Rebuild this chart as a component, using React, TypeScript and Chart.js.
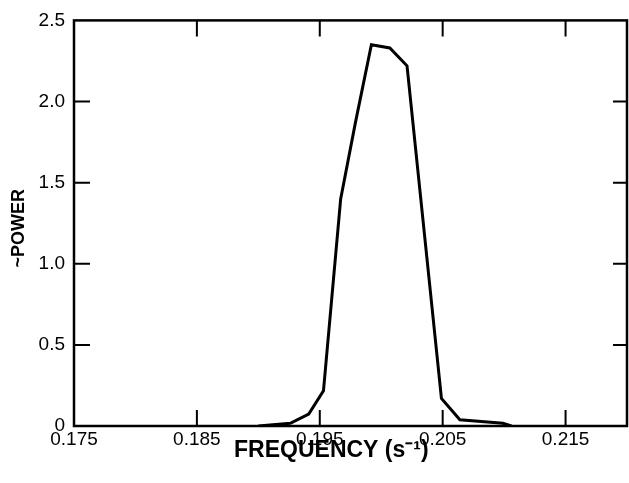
import { useEffect, useRef } from "react";
import Chart from "chart.js/auto";
import type { Chart as ChartJS, Plugin } from "chart.js";

// frequency (s^-1) and relative power
const frequency = [
  0.19, 0.1926, 0.1941, 0.1953, 0.1967, 0.1979, 0.1992, 0.2007, 0.2021, 0.2049,
  0.2064, 0.2099, 0.2106,
];
const power = [0, 0.017, 0.074, 0.217, 1.4, 1.87, 2.35, 2.33, 2.22, 0.17, 0.038, 0.017, 0];

const xTicks = [0.175, 0.185, 0.195, 0.205, 0.215];
const yTicks = [0, 0.5, 1.0, 1.5, 2.0, 2.5];

const FONT = "'Liberation Sans', Arial, sans-serif";

// box round the plot with inward tick marks on all four sides
const framePlugin: Plugin<"line"> = {
  id: "frame",
  beforeDatasetsDraw(chart) {
    const { ctx, chartArea, scales } = chart;
    const { left, right, top, bottom } = chartArea;
    ctx.save();
    ctx.strokeStyle = "#000";
    ctx.lineWidth = 2.5;
    ctx.strokeRect(left, top, right - left, bottom - top);
    ctx.lineWidth = 2;
    ctx.beginPath();
    xTicks.slice(1).forEach((v) => {
      const px = scales.x.getPixelForValue(v);
      ctx.moveTo(px, bottom);
      ctx.lineTo(px, bottom - 16);
      ctx.moveTo(px, top);
      ctx.lineTo(px, top + 16);
    });
    yTicks.slice(1, -1).forEach((v) => {
      const py = scales.y.getPixelForValue(v);
      ctx.moveTo(left, py);
      ctx.lineTo(left + 16, py);
      ctx.moveTo(right, py);
      ctx.lineTo(right - 14, py);
    });
    ctx.stroke();
    ctx.restore();
  },
};

export default function App() {
  const canvasRef = useRef<HTMLCanvasElement>(null);
  const chartRef = useRef<ChartJS<"line"> | null>(null);

  useEffect(() => {
    if (!canvasRef.current) return;
    chartRef.current?.destroy();

    chartRef.current = new Chart(canvasRef.current, {
      type: "line",
      data: {
        datasets: [
          {
            data: frequency.map((f, i) => ({ x: f, y: power[i] })),
            borderColor: "#000",
            borderWidth: 3,
            pointRadius: 0,
            tension: 0,
            fill: false,
          },
        ],
      },
      options: {
        animation: false,
        responsive: true,
        maintainAspectRatio: false,
        layout: { padding: { top: 16, right: 2, left: 0, bottom: 0 } },
        plugins: { legend: { display: false }, tooltip: { enabled: false } },
        scales: {
          x: {
            type: "linear",
            min: 0.175,
            max: 0.22,
            grid: { display: false, drawTicks: false },
            border: { display: false },
            afterBuildTicks: (scale) => {
              scale.ticks = xTicks.map((v) => ({ value: v }));
            },
            afterFit: (scale) => {
              scale.height = 57;
            },
            ticks: {
              color: "#000",
              padding: 2,
              maxRotation: 0,
              font: { family: FONT, size: 19 },
              callback: (v) => Number(v).toFixed(3),
            },
            title: {
              display: true,
              text: "FREQUENCY (s⁻¹)      ",
              color: "#000",
              font: { family: FONT, size: 23, weight: "bold" },
              padding: { top: 0, bottom: 19 },
            },
          },
          y: {
            type: "linear",
            min: 0,
            max: 2.5,
            grid: { display: false, drawTicks: false },
            border: { display: false },
            afterBuildTicks: (scale) => {
              scale.ticks = yTicks.map((v) => ({ value: v }));
            },
            afterFit: (scale) => {
              scale.width = 74;
            },
            ticks: {
              color: "#000",
              padding: 9,
              font: { family: FONT, size: 19 },
              callback: (v) => (Number(v) === 0 ? "0" : Number(v).toFixed(1)),
            },
            title: {
              display: true,
              text: "~POWER  ",
              color: "#000",
              font: { family: FONT, size: 18, weight: "bold" },
              padding: { top: 8, bottom: 0 },
            },
          },
        },
      },
      plugins: [framePlugin],
    });

    return () => {
      chartRef.current?.destroy();
      chartRef.current = null;
    };
  }, []);

  return (
    <div style={{ position: "fixed", left: 0, top: 0, width: 629, height: 483, background: "#fff" }}>
      <canvas ref={canvasRef}></canvas>
    </div>
  );
}
